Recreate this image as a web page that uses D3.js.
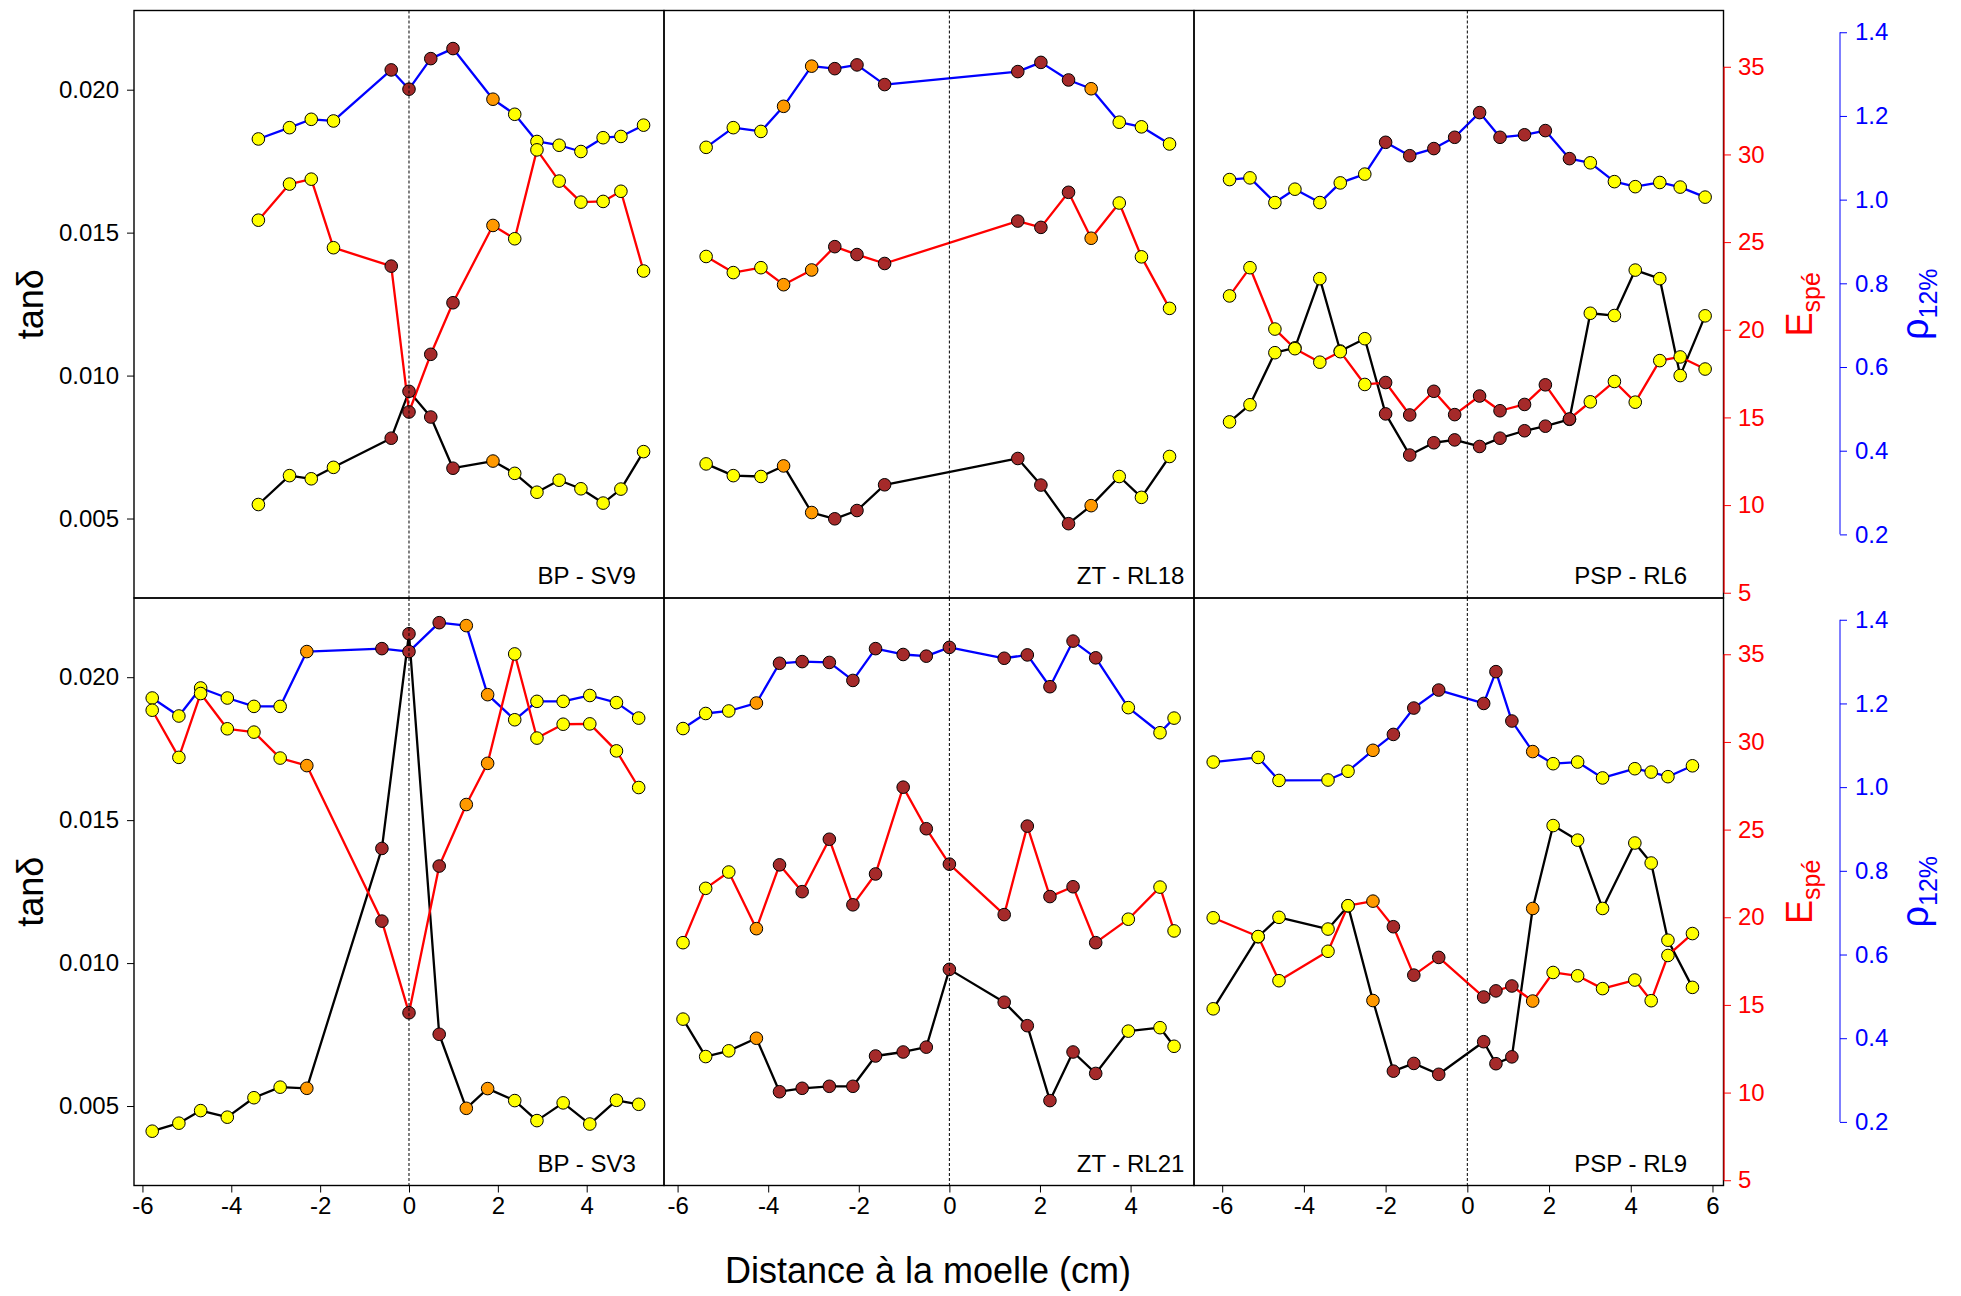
<!DOCTYPE html>
<html lang="fr">
<head>
  <meta charset="UTF-8">
  <title>tanδ, Espé et ρ12% selon la distance à la moelle</title>
  <script src="https://d3js.org/d3.v7.min.js"></script>
  <style>
    body { margin: 0; background: #fff; }
    svg text { font-family: "Liberation Sans", Arial, Helvetica, sans-serif; }
  </style>
</head>
<body>
  <svg id="chart" width="1961" height="1296"></svg>

  <script>
    // Panel names, in reading order (top row then bottom row)
    const panelNames = ["BP - SV9", "ZT - RL18", "PSP - RL6", "BP - SV3", "ZT - RL21", "PSP - RL9"];

    // marker colour class for every sample: y = yellow, o = orange, b = brown
    const catColors = { y: "#ffff00", o: "#ff9900", b: "#a52a2a" };

    // BP - SV9
    const xSV9 = [-3.39, -2.69, -2.20, -1.70, -0.40, 0, 0.49, 0.99, 1.89, 2.38, 2.88, 3.38, 3.87, 4.37, 4.77, 5.28];
    const catSV9 = ["y","y","y","y","b","b","b","b","o","y","y","y","y","y","y","y"];
    const tanSV9 = [0.00549, 0.00650, 0.00639, 0.00679, 0.00781, 0.00945, 0.00855, 0.00676, 0.00701, 0.00658, 0.00592, 0.00634, 0.00604, 0.00554, 0.00603, 0.00734];
    const eSV9 = [26.25, 28.31, 28.59, 24.68, 23.63, 15.31, 18.60, 21.54, 25.95, 25.19, 30.26, 28.48, 27.28, 27.32, 27.90, 23.35];
    const rhoSV9 = [1.145, 1.172, 1.192, 1.188, 1.310, 1.264, 1.337, 1.361, 1.240, 1.204, 1.139, 1.130, 1.115, 1.148, 1.151, 1.178];

    // ZT - RL18
    const xRL18 = [-5.37, -4.77, -4.16, -3.66, -3.04, -2.53, -2.04, -1.43, 1.51, 2.02, 2.63, 3.13, 3.75, 4.24, 4.86];
    const catRL18 = ["y","y","y","o","o","b","b","b","b","b","b","o","y","y","y"];
    const tanRL18 = [0.00691, 0.00650, 0.00647, 0.00684, 0.00521, 0.00499, 0.00528, 0.00618, 0.00710, 0.00617, 0.00482, 0.00545, 0.00647, 0.00574, 0.00717];
    const eRL18 = [24.18, 23.26, 23.54, 22.57, 23.41, 24.74, 24.29, 23.78, 26.20, 25.84, 27.84, 25.22, 27.23, 24.16, 21.22];
    const rhoRL18 = [1.125, 1.172, 1.163, 1.223, 1.319, 1.313, 1.322, 1.275, 1.306, 1.328, 1.286, 1.265, 1.185, 1.174, 1.133];

    // PSP - RL6
    const xRL6 = [-5.82, -5.32, -4.71, -4.22, -3.61, -3.11, -2.51, -2.00, -1.41, -0.82, -0.31, 0.30, 0.80, 1.40, 1.91, 2.50, 3.01, 3.60, 4.11, 4.71, 5.21, 5.82];
    const catRL6 = ["y","y","y","y","y","y","y","b","b","b","b","b","b","b","b","b","y","y","y","y","y","y"];
    const tanRL6 = [0.00838, 0.00898, 0.01080, 0.01097, 0.01339, 0.01086, 0.01129, 0.00866, 0.00722, 0.00765, 0.00775, 0.00752, 0.00781, 0.00807, 0.00823, 0.00847, 0.01218, 0.01210, 0.01369, 0.01339, 0.01000, 0.01209];
    const eRL6 = [21.93, 23.54, 20.04, 18.92, 18.15, 18.75, 16.88, 16.99, 15.14, 16.49, 15.16, 16.22, 15.38, 15.74, 16.86, 14.91, 15.89, 17.05, 15.87, 18.24, 18.45, 17.76];
    const rhoRL6 = [1.048, 1.052, 0.993, 1.025, 0.993, 1.040, 1.061, 1.137, 1.105, 1.122, 1.149, 1.208, 1.149, 1.155, 1.165, 1.098, 1.088, 1.043, 1.031, 1.041, 1.030, 1.006];

    // BP - SV3
    const xSV3 = [-5.78, -5.18, -4.69, -4.09, -3.49, -2.90, -2.30, -0.61, 0, 0.68, 1.29, 1.77, 2.38, 2.88, 3.47, 4.07, 4.67, 5.17];
    const catSV3 = ["y","y","y","y","y","y","o","b","b","b","o","o","y","y","y","y","y","y"];
    const tanSV3 = [0.00412, 0.00440, 0.00484, 0.00461, 0.00529, 0.00566, 0.00562, 0.01401, 0.02152, 0.00751, 0.00492, 0.00561, 0.00519, 0.00449, 0.00511, 0.00437, 0.00520, 0.00506];
    const eSV3 = [31.81, 29.12, 32.76, 30.75, 30.56, 29.08, 28.65, 19.78, 14.55, 22.92, 26.43, 28.78, 35.02, 30.22, 31.01, 31.03, 29.49, 27.40];
    const rhoSV3 = [1.213, 1.170, 1.237, 1.213, 1.193, 1.193, 1.324, 1.331, 1.324, 1.393, 1.386, 1.221, 1.161, 1.205, 1.205, 1.219, 1.202, 1.165];

    // ZT - RL21
    const xRL21 = [-5.88, -5.38, -4.87, -4.26, -3.75, -3.25, -2.65, -2.13, -1.63, -1.02, -0.51, 0, 1.21, 1.72, 2.22, 2.73, 3.23, 3.95, 4.65, 4.96];
    const catRL21 = ["y","y","y","o","b","b","b","b","b","b","b","b","b","b","b","b","b","y","y","y"];
    const tanRL21 = [0.00804, 0.00673, 0.00693, 0.00737, 0.00550, 0.00562, 0.00569, 0.00569, 0.00675, 0.00689, 0.00706, 0.00978, 0.00863, 0.00781, 0.00519, 0.00689, 0.00614, 0.00762, 0.00774, 0.00709];
    const eRL21 = [18.55, 21.65, 22.58, 19.35, 22.99, 21.46, 24.45, 20.71, 22.47, 27.42, 25.05, 23.03, 20.15, 25.20, 21.18, 21.74, 18.55, 19.89, 21.72, 19.22];
    const rhoRL21 = [1.140, 1.176, 1.182, 1.201, 1.296, 1.300, 1.298, 1.255, 1.331, 1.317, 1.313, 1.334, 1.308, 1.316, 1.240, 1.349, 1.309, 1.190, 1.130, 1.165];

    // PSP - RL9
    const xRL9 = [-6.22, -5.12, -4.61, -3.41, -2.92, -2.31, -1.81, -1.31, -0.70, 0.40, 0.70, 1.09, 1.60, 2.10, 2.70, 3.31, 4.10, 4.50, 4.91, 5.51];
    const catRL9 = ["y","y","y","y","y","o","b","b","b","b","b","b","o","y","y","y","y","y","y","y"];
    const tanRL9 = [0.00840, 0.01092, 0.01160, 0.01119, 0.01200, 0.00869, 0.00622, 0.00649, 0.00611, 0.00725, 0.00648, 0.00672, 0.01191, 0.01481, 0.01430, 0.01191, 0.01420, 0.01350, 0.01080, 0.00915];
    const eRL9 = [19.97, 18.90, 16.38, 18.06, 20.66, 20.92, 19.46, 16.70, 17.71, 15.45, 15.80, 16.08, 15.22, 16.85, 16.66, 15.93, 16.42, 15.24, 17.82, 19.07];
    const rhoRL9 = [1.060, 1.071, 1.016, 1.017, 1.038, 1.088, 1.126, 1.189, 1.232, 1.200, 1.276, 1.158, 1.085, 1.056, 1.060, 1.022, 1.044, 1.036, 1.025, 1.051];

    // Tick values
    const xTicks = [-6, -4, -2, 0, 2, 4, 6];
    const tanTicks = [0.005, 0.010, 0.015, 0.020];
    const eTicks = [5, 10, 15, 20, 25, 30, 35];
    const rhoTicks = [0.2, 0.4, 0.6, 0.8, 1.0, 1.2, 1.4];

    const panels = [
      [xSV9, catSV9, tanSV9, eSV9, rhoSV9],
      [xRL18, catRL18, tanRL18, eRL18, rhoRL18],
      [xRL6, catRL6, tanRL6, eRL6, rhoRL6],
      [xSV3, catSV3, tanSV3, eSV3, rhoSV3],
      [xRL21, catRL21, tanRL21, eRL21, rhoRL21],
      [xRL9, catRL9, tanRL9, eRL9, rhoRL9]
    ].map((p, i) => ({
      name: panelNames[i], col: i % 3, row: Math.floor(i / 3),
      pts: p[0].map((x, j) => ({ x: x, cat: p[1][j], tan: p[2][j], e: p[3][j], rho: p[4][j] }))
    }));

    // layout
    const colEdges = [134, 664, 1194, 1723.5];
    const rowEdges = [10.5, 598, 1185.5];
    const xDomains = [[-6.19, 5.74], [-6.30, 5.40], [-6.69, 6.27]];
    const redAxisX = 1724, blueAxisX = 1840;
    const font = 24;

    const svg = d3.select("#chart");
    svg.append("rect").attr("width", 1961).attr("height", 1296).attr("fill", "#fff");

    const xScales = xDomains.map((d, c) => d3.scaleLinear().domain(d).range([colEdges[c], colEdges[c + 1]]));
    const rowScales = [0, 1].map(r => {
      const top = rowEdges[r], bottom = rowEdges[r + 1];
      return {
        tan: d3.scaleLinear().domain([0.00222, 0.02277]).range([bottom, top]),
        e: d3.scaleLinear().domain([4.70, 38.21]).range([bottom, top]),
        rho: d3.scaleLinear().domain([0.048, 1.452]).range([bottom, top])
      };
    });

    const series = [
      { key: "tan", color: "#000000" },
      { key: "rho", color: "#0000ff" },
      { key: "e", color: "#ff0000" }
    ];

    panels.forEach(p => {
      const x = xScales[p.col];
      const ys = rowScales[p.row];
      const g = svg.append("g").attr("class", "panel");

      // lines first, then markers on top
      series.forEach(s => {
        const line = d3.line().x(d => x(d.x)).y(d => ys[s.key](d[s.key]));
        g.append("path")
          .datum(p.pts)
          .attr("d", line)
          .attr("fill", "none")
          .attr("stroke", s.color)
          .attr("stroke-width", 2.3)
          .attr("stroke-linejoin", "round");
      });
      series.forEach(s => {
        g.selectAll(null)
          .data(p.pts)
          .enter()
          .append("circle")
          .attr("cx", d => x(d.x))
          .attr("cy", d => ys[s.key](d[s.key]))
          .attr("r", 6.3)
          .attr("fill", d => catColors[d.cat])
          .attr("stroke", "#000")
          .attr("stroke-width", 1);
      });

      // pith line
      g.append("line")
        .attr("x1", x(0)).attr("x2", x(0))
        .attr("y1", rowEdges[p.row]).attr("y2", rowEdges[p.row + 1])
        .attr("stroke", "#000")
        .attr("stroke-width", 1)
        .attr("stroke-dasharray", "3,2");

      // panel frame
      g.append("rect")
        .attr("x", colEdges[p.col]).attr("y", rowEdges[p.row])
        .attr("width", colEdges[p.col + 1] - colEdges[p.col])
        .attr("height", rowEdges[p.row + 1] - rowEdges[p.row])
        .attr("fill", "none")
        .attr("stroke", "#000")
        .attr("stroke-width", 1.4);

      g.append("text")
        .attr("x", x(4))
        .attr("y", ys.tan(0.003))
        .attr("dy", "0.35em")
        .attr("text-anchor", "middle")
        .attr("font-size", font)
        .text(p.name);
    });

    // axes for each row
    function styleAxis(sel, color) {
      sel.select(".domain").remove();
      sel.selectAll(".tick line").attr("stroke", color);
      sel.selectAll(".tick text").attr("fill", color).attr("font-size", font)
        .attr("font-family", "Liberation Sans, Arial, sans-serif");
    }

    [0, 1].forEach(r => {
      const ys = rowScales[r];
      const mid = (rowEdges[r] + rowEdges[r + 1]) / 2;

      const left = svg.append("g")
        .attr("transform", `translate(${colEdges[0]},0)`)
        .call(d3.axisLeft(ys.tan).tickValues(tanTicks).tickFormat(d3.format(".3f"))
          .tickSize(7).tickSizeOuter(0).tickPadding(8));
      styleAxis(left, "#000");

      const red = svg.append("g")
        .attr("transform", `translate(${redAxisX},0)`)
        .call(d3.axisRight(ys.e).tickValues(eTicks).tickSize(7).tickSizeOuter(0).tickPadding(7));
      styleAxis(red, "#ff0000");
      red.append("line")
        .attr("y1", ys.e(5)).attr("y2", ys.e(35))
        .attr("stroke", "#ff0000").attr("stroke-width", 1.2);

      const blue = svg.append("g")
        .attr("transform", `translate(${blueAxisX},0)`)
        .call(d3.axisRight(ys.rho).tickValues(rhoTicks).tickFormat(d3.format(".1f"))
          .tickSize(7).tickSizeOuter(0).tickPadding(8));
      styleAxis(blue, "#0000ff");
      blue.append("line")
        .attr("y1", ys.rho(0.2)).attr("y2", ys.rho(1.4))
        .attr("stroke", "#0000ff").attr("stroke-width", 1);

      // axis titles
      svg.append("text")
        .attr("transform", `translate(43,${mid}) rotate(-90)`)
        .attr("text-anchor", "middle")
        .attr("font-size", 36)
        .text("tanδ");

      const et = svg.append("text")
        .attr("transform", `translate(1812,${mid}) rotate(-90)`)
        .attr("text-anchor", "middle")
        .attr("fill", "#ff0000");
      et.append("tspan").attr("font-size", 36).text("E");
      et.append("tspan").attr("font-size", 25).attr("dy", 8).text("spé");

      const rt = svg.append("text")
        .attr("transform", `translate(1928,${mid}) rotate(-90)`)
        .attr("text-anchor", "middle")
        .attr("fill", "#0000ff");
      rt.append("tspan").attr("font-size", 38).text("ρ");
      rt.append("tspan").attr("font-size", 25).attr("dy", 9).text("12%");
    });

    // bottom axes, one per column
    xScales.forEach((x, c) => {
      const dom = x.domain();
      const ax = svg.append("g")
        .attr("transform", `translate(0,${rowEdges[2]})`)
        .call(d3.axisBottom(x).tickValues(xTicks.filter(t => t >= dom[0] && t <= dom[1]))
          .tickFormat(d => String(d)).tickSize(7).tickSizeOuter(0).tickPadding(4));
      styleAxis(ax, "#000");
    });

    svg.append("text")
      .attr("x", 928)
      .attr("y", 1283)
      .attr("text-anchor", "middle")
      .attr("font-size", 36)
      .text("Distance à la moelle (cm)");
  </script>
</body>
</html>
